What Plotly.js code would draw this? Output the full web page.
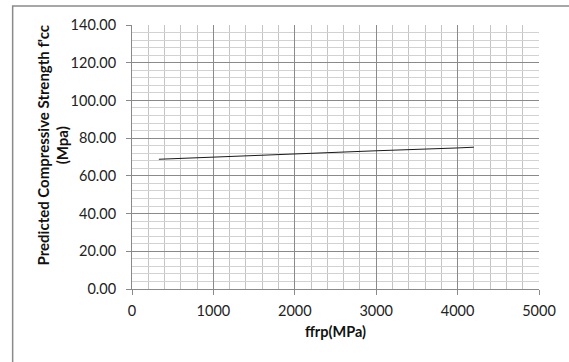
<!DOCTYPE html>
<html>
<head>
<meta charset="utf-8">
<script src="https://cdn.plot.ly/plotly-3.0.1.min.js"></script>
<style>html,body{margin:0;padding:0;background:#fff;}#chart{width:569px;height:362px;}</style>
</head>
<body>
<div id="chart"></div>
<script>
var ffrp = [330, 1000, 2000, 3000, 4000, 4200];
var fcc = [68.8, 70.0, 71.6, 73.3, 74.8, 75.2];
var xTickStep = 1000;
var xMinorStep = 200;
var yTickStep = 20;
var yMinorStep = 4;
var yTickFormat = '.2f';

var W = 569, H = 362, ml = 131.5, mr = 30, mt = 25, mb = 72.7;
var pw = W - ml - mr, ph = H - mt - mb;
function px(x){ return (x - ml) / pw; }
function py(y){ return (H - mb - y) / ph; }

var trace = {
  x: ffrp, y: fcc, type: 'scatter', mode: 'lines',
  line: {color: '#1a1a1a', width: 1}, hoverinfo: 'skip', showlegend: false
};

var layout = {
  width: W, height: H,
  margin: {l: ml, r: mr, t: mt, b: mb, pad: 0},
  paper_bgcolor: '#ffffff', plot_bgcolor: '#ffffff',
  font: {family: 'Lato, "Open Sans", sans-serif', size: 14.5, color: '#222'},
  xaxis: {
    range: [0, 5000], tickmode: 'linear', tick0: 0, dtick: xTickStep,
    showgrid: true, gridcolor: '#8a8a8a', gridwidth: 1,
    minor: {tickmode: 'linear', tick0: 0, dtick: xMinorStep, showgrid: true, gridcolor: '#c4c4c4', gridwidth: 1, ticks: ''},
    showline: true, linecolor: '#8a8a8a', linewidth: 1,
    ticks: 'outside', ticklen: 5, tickcolor: '#8a8a8a', tickwidth: 1,
    zeroline: false, ticklabelstandoff: 4,
    tickfont: {size: 14.5, color: '#222'},
    title: {text: '<b>ffrp(MPa)</b>', font: {size: 14.5, color: '#111'}, standoff: 8}
  },
  yaxis: {
    range: [0, 140], tickmode: 'linear', tick0: 0, dtick: yTickStep, tickformat: yTickFormat,
    showgrid: true, gridcolor: '#8a8a8a', gridwidth: 1,
    minor: {tickmode: 'linear', tick0: 0, dtick: yMinorStep, showgrid: true, gridcolor: '#d2d2d2', gridwidth: 1, ticks: ''},
    showline: true, linecolor: '#8a8a8a', linewidth: 1,
    ticks: 'outside', ticklen: 5, tickcolor: '#8a8a8a', tickwidth: 1,
    zeroline: false, ticklabelstandoff: 7,
    tickfont: {size: 14.5, color: '#222'}
  },
  annotations: [{
    xref: 'paper', yref: 'paper', x: px(52), y: py(146),
    text: "<b>Predicted Compressive Strength f'cc<br>(Mpa)</b>",
    showarrow: false, textangle: -90, xanchor: 'center', yanchor: 'middle',
    font: {size: 15, color: '#111'}
  }],
  shapes: [{
    type: 'rect', xref: 'paper', yref: 'paper',
    x0: px(12), x1: px(620), y0: py(420), y1: py(6),
    line: {color: '#8a8a8a', width: 1.5}, fillcolor: 'rgba(0,0,0,0)', layer: 'below'
  }]
};

Plotly.newPlot('chart', [trace], layout, {displayModeBar: false, staticPlot: true});
</script>
</body>
</html>
